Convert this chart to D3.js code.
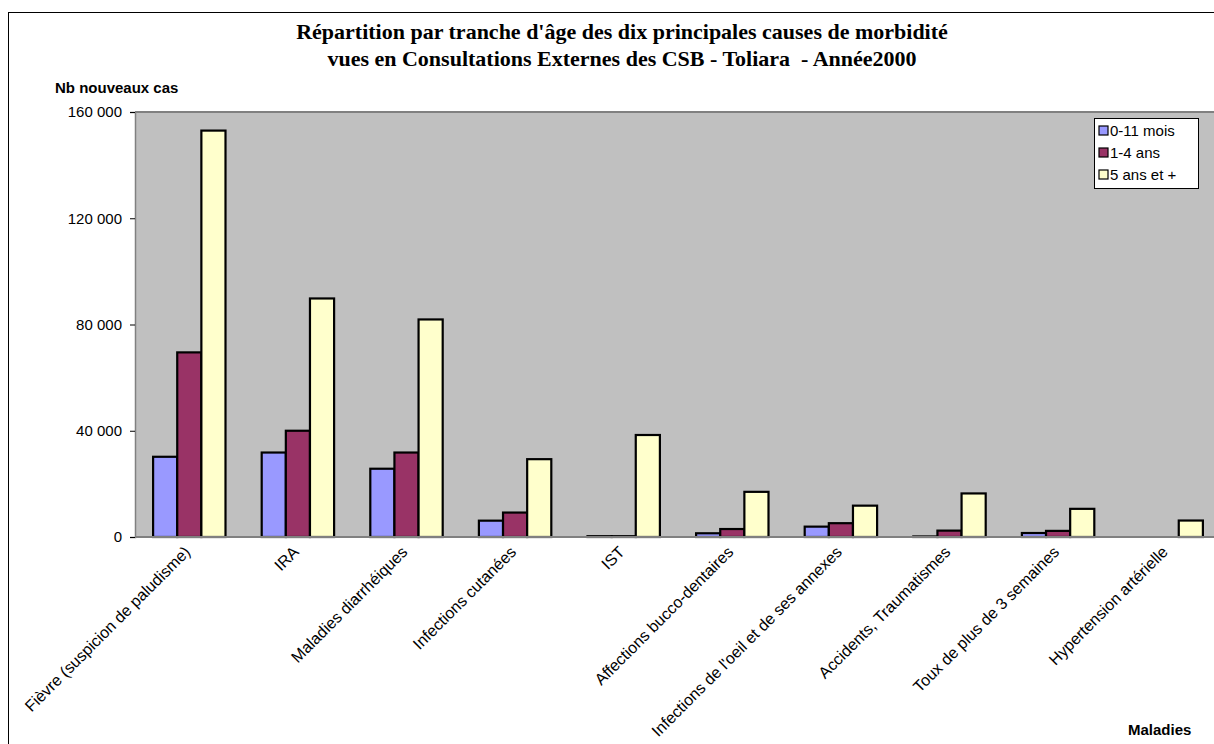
<!DOCTYPE html>
<html>
<head>
<meta charset="utf-8">
<script src="https://cdn.jsdelivr.net/npm/d3@7"></script>
<style>
  body { margin: 0; background: #fff; }
  svg text { font-family: Arial, "Liberation Sans", sans-serif; }
</style>
</head>
<body>
<div id="Data"></div>
<script>
// categories and series
const maladies = [
  "Fièvre (suspicion de paludisme)", "IRA", "Maladies diarrhéiques",
  "Infections cutanées", "IST", "Affections bucco-dentaires",
  "Infections de l'oeil et de ses annexes", "Accidents, Traumatismes",
  "Toux de plus de 3 semaines", "Hypertension artérielle"
];
const seriesNames = ["0-11 mois", "1-4 ans", "5 ans et +"];
const mois0_11 = [30200, 31800, 25700, 6150, 300, 1400, 3900, 200, 1500, 0];
const ans1_4   = [69500, 40000, 31800, 9200, 300, 3000, 5200, 2400, 2300, 0];
const ans5plus = [153000, 89800, 81900, 29300, 38400, 17000, 11800, 16400, 10600, 6200];
const yTicks = [0, 40000, 80000, 120000, 160000];
const colors = ["#9999FF", "#993366", "#FFFFCC"];

const W = 1214, H = 744;
const margin = {top: 112, left: 135, bottom: 207};
const plotW = 1086, plotH = H - margin.top - margin.bottom;

const svg = d3.select("#Data").append("svg")
    .attr("width", W)
    .attr("height", H);

// outer chart frame
svg.append("rect")
    .attr("x", 8.5).attr("y", 12.5)
    .attr("width", 1300).attr("height", 800)
    .attr("fill", "#fff").attr("stroke", "#000");

svg.append("text")
    .attr("x", 622).attr("y", 39)
    .attr("text-anchor", "middle")
    .style("font-family", "'Liberation Serif', 'Times New Roman', serif")
    .style("font-weight", "bold").style("font-size", "22px")
    .text("Répartition par tranche d'âge des dix principales causes de morbidité");
svg.append("text")
    .attr("x", 622).attr("y", 66)
    .attr("text-anchor", "middle")
    .style("font-family", "'Liberation Serif', 'Times New Roman', serif")
    .style("font-weight", "bold").style("font-size", "22px")
    .style("white-space", "pre")
    .text("vues en Consultations Externes des CSB - Toliara  - Année2000");

const g = svg.append("g")
    .attr("transform", "translate(" + margin.left + "," + margin.top + ")");

g.append("rect")
    .attr("width", plotW).attr("height", plotH)
    .attr("fill", "#C0C0C0");
g.append("line")
    .attr("x1", 0).attr("x2", plotW).attr("y1", 0).attr("y2", 0)
    .attr("stroke", "#808080").attr("stroke-width", 2);

const x = d3.scaleBand()
    .domain(maladies)
    .range([0, plotW])
    .paddingInner(1 / 3)
    .paddingOuter(1 / 6);
const xs = d3.scaleBand()
    .domain(seriesNames)
    .range([0, x.bandwidth()]);
const y = d3.scaleLinear()
    .domain([0, 160000])
    .range([plotH, 0]);

const rows = maladies.map(function(m, i) {
    return {m: m, vals: [mois0_11[i], ans1_4[i], ans5plus[i]]};
});

const grp = g.selectAll("g.cat")
    .data(rows)
    .enter().append("g")
    .attr("transform", function(d) { return "translate(" + x(d.m) + ",0)"; });

grp.selectAll("rect")
    .data(function(d) {
        return d.vals.map(function(v, k) { return {k: k, v: v}; })
            .filter(function(e) { return e.v > 0; });
    })
    .enter().append("rect")
    .attr("x", function(d) { return xs(seriesNames[d.k]); })
    .attr("y", function(d) { return y(d.v); })
    .attr("width", xs.bandwidth())
    .attr("height", function(d) { return plotH - y(d.v); })
    .attr("fill", function(d) { return colors[d.k]; })
    .attr("stroke", "#000")
    .attr("stroke-width", 2.2);

// y axis
const yAxis = g.append("g")
    .call(d3.axisLeft(y).tickValues(yTicks).tickSize(5).tickPadding(8)
        .tickFormat(function(d) { return d3.format(",")(d).replace(/,/g, " "); }));
yAxis.select(".domain").attr("stroke", "#808080").attr("stroke-width", 1.5);
yAxis.selectAll(".tick line").attr("stroke", "#000");
yAxis.selectAll("text").style("font-size", "15px").attr("fill", "#000")
    .style("font-family", "Arial, 'Liberation Sans', sans-serif");

// x axis line
g.append("line")
    .attr("x1", 0).attr("x2", plotW).attr("y1", plotH).attr("y2", plotH)
    .attr("stroke", "#808080").attr("stroke-width", 2);

g.selectAll("text.cat")
    .data(maladies)
    .enter().append("text")
    .attr("class", "cat")
    .attr("text-anchor", "end")
    .attr("transform", function(d) {
        return "translate(" + (x(d) + x.bandwidth() / 2 + 2) + "," + (plotH + 16) + ")rotate(-45)";
    })
    .style("font-size", "16px")
    .text(function(d) { return d; });

svg.append("text")
    .attr("x", 55).attr("y", 93)
    .style("font-weight", "bold").style("font-size", "15px")
    .text("Nb nouveaux cas");
svg.append("text")
    .attr("x", 1128).attr("y", 735)
    .style("font-weight", "bold").style("font-size", "15px")
    .text("Maladies");

// legend
const leg = svg.append("g").attr("transform", "translate(1094,118)");
leg.append("rect")
    .attr("x", 0.5).attr("y", 0.5)
    .attr("width", 104).attr("height", 70)
    .attr("fill", "#fff").attr("stroke", "#000");
seriesNames.forEach(function(s, i) {
    leg.append("rect")
        .attr("x", 5).attr("y", 8 + i * 22)
        .attr("width", 9).attr("height", 9)
        .attr("fill", colors[i]).attr("stroke", "#000").attr("stroke-width", 1.2);
    leg.append("text")
        .attr("x", 16).attr("y", 18 + i * 22)
        .style("font-size", "15px")
        .text(s);
});
</script>
</body>
</html>
